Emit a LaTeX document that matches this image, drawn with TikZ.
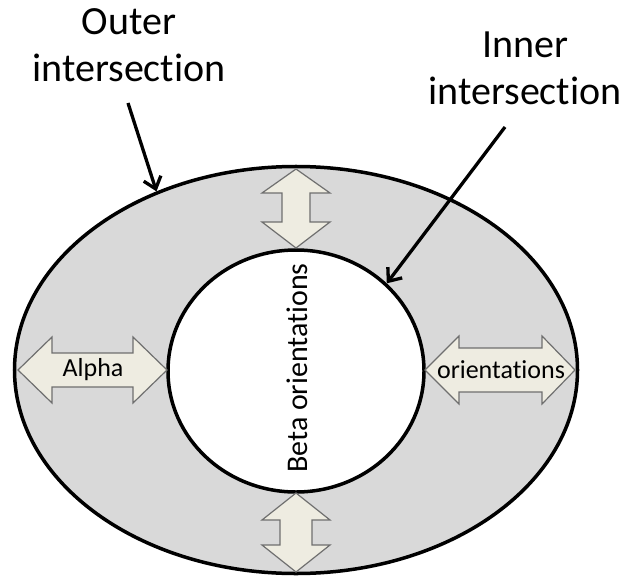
\documentclass[tikz,border=0pt]{standalone}
\usepackage{fontspec}
\setmainfont[Ligatures=NoCommon]{Carlito}
\usetikzlibrary{arrows.meta,shapes.geometric}

\definecolor{ringgray}{HTML}{D9D9D9}
\definecolor{arrowfill}{HTML}{EEECE1}
\definecolor{arrowedge}{HTML}{6F6F6F}

\tikzset{
  ring/.style={ellipse, draw=black, line width=3.5bp, inner sep=0pt},
  blockarrow/.style={draw=arrowedge, fill=arrowfill, line width=1.2bp, line join=miter},
  pointer/.style={draw=black, line width=3.3bp, -{Straight Barb[length=11bp,width=18bp]}},
  bigtext/.style={font=\fontsize{40bp}{47bp}\selectfont, align=center, inner sep=0pt},
  arrowtext/.style={font=\fontsize{26bp}{30bp}\selectfont, inner sep=0pt},
}

\begin{document}
\begin{tikzpicture}[x=1bp, y=-1bp]
  \useasboundingbox (0,0) rectangle (626,578);

  % outer and inner boundaries of the ring
  \node[ring, fill=ringgray, minimum width=563bp, minimum height=407bp] (outer) at (296,370) {};
  \node[ring, fill=white, minimum width=256bp, minimum height=242bp] (inner) at (296,371) {};

  % double-headed block arrows across the ring
  \draw[blockarrow] (18,370) -- (52,337) -- (52,353) -- (133,353) -- (133,337) -- (167,370)
    -- (133,403) -- (133,387) -- (52,387) -- (52,403) -- cycle;
  \draw[blockarrow] (425,370) -- (459,336) -- (459,348) -- (542,348) -- (542,336) -- (575,370)
    -- (542,404) -- (542,392) -- (459,392) -- (459,404) -- cycle;
  \draw[blockarrow] (296,169) -- (330,193) -- (310,193) -- (310,222) -- (330,222) -- (296,248)
    -- (262,222) -- (282,222) -- (282,193) -- (262,193) -- cycle;
  \draw[blockarrow] (296,493) -- (330,520) -- (312,520) -- (312,545) -- (330,545) -- (296,572)
    -- (262,545) -- (280,545) -- (280,520) -- (262,520) -- cycle;

  \node[arrowtext] (alpha) at (93,370) {Alpha};
  \node[arrowtext] (orient) at (501,370) {orientations};
  \node[arrowtext, font=\fontsize{30bp}{34bp}\selectfont, rotate=90] (beta) at (297,368) {Beta orientations};

  % labels with their pointers (base anchor sits on the last line)
  \node[bigtext, anchor=base] (outerlbl) at (129,82) {Outer\\intersection};
  \node[bigtext, anchor=base] (innerlbl) at (525,105) {Inner\\intersection};

  \coordinate (otail) at (128,103);
  \coordinate (itail) at (505,127);
  \draw[pointer] (otail) -- (outer.128);
  \draw[pointer] (itail) -- (inner.44);
\end{tikzpicture}
\end{document}
